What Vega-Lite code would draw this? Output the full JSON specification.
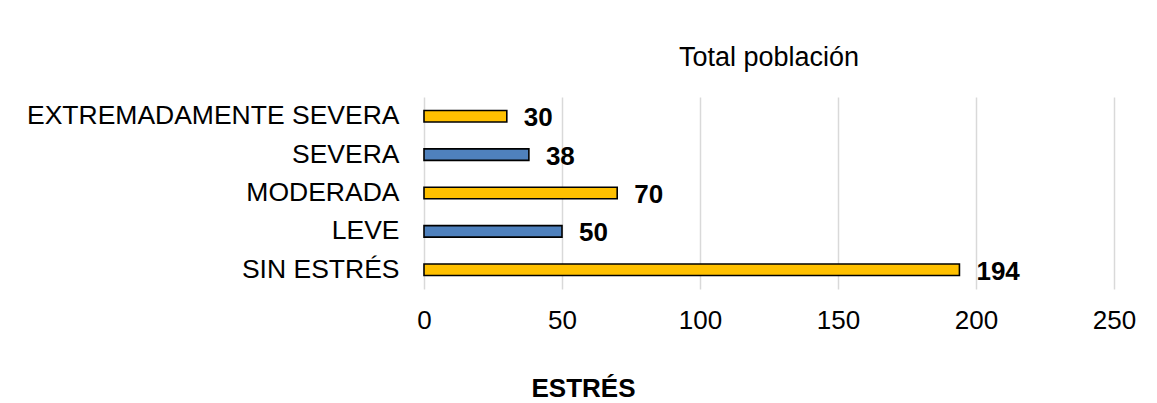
{
  "$schema": "https://vega.github.io/schema/vega-lite/v6.json",
  "width": 690,
  "height": 192,
  "autosize": {"type": "none"},
  "padding": {"left": 424, "top": 97, "right": 43, "bottom": 114},
  "background": "#ffffff",
  "config": {
    "font": "Liberation Sans",
    "view": {"stroke": null}
  },
  "title": {
    "text": "Total población",
    "fontSize": 27,
    "fontWeight": "normal",
    "color": "#000000",
    "anchor": "middle",
    "baseline": "alphabetic",
    "offset": 4
  },
  "data": {
    "values": [
      {"categoria": "EXTREMADAMENTE SEVERA", "total": 30},
      {"categoria": "SEVERA", "total": 38},
      {"categoria": "MODERADA", "total": 70},
      {"categoria": "LEVE", "total": 50},
      {"categoria": "SIN ESTRÉS", "total": 194}
    ]
  },
  "encoding": {
    "y": {
      "field": "categoria",
      "type": "nominal",
      "sort": null,
      "scale": {"paddingInner": 0.7, "paddingOuter": 0.35},
      "axis": {
        "title": null,
        "domain": false,
        "ticks": false,
        "labelFontSize": 26.5,
        "labelColor": "#000000",
        "labelPadding": 25,
        "labelLimit": 600
      }
    },
    "x": {
      "field": "total",
      "type": "quantitative",
      "scale": {"domain": [0, 250], "nice": false},
      "axis": {
        "values": [0, 50, 100, 150, 200, 250],
        "domain": false,
        "ticks": false,
        "grid": true,
        "gridColor": "#d9d9d9",
        "gridWidth": 1.5,
        "labelFontSize": 26,
        "labelColor": "#000000",
        "labelPadding": 18,
        "labelFlush": false,
        "title": "ESTRÉS",
        "titleFontSize": 26,
        "titleFontWeight": "bold",
        "titleColor": "#000000",
        "titleBaseline": "alphabetic",
        "titleX": 159,
        "titleY": 107
      }
    }
  },
  "layer": [
    {
      "mark": {"type": "bar", "stroke": "#000000", "strokeWidth": 1.6},
      "encoding": {
        "color": {
          "field": "categoria",
          "type": "nominal",
          "scale": {
            "domain": ["EXTREMADAMENTE SEVERA", "SEVERA", "MODERADA", "LEVE", "SIN ESTRÉS"],
            "range": ["#FFC000", "#4F81BD", "#FFC000", "#4F81BD", "#FFC000"]
          },
          "legend": null
        }
      }
    },
    {
      "mark": {
        "type": "text",
        "align": "left",
        "baseline": "middle",
        "dx": 17,
        "dy": 2,
        "fontSize": 26,
        "fontWeight": "bold",
        "color": "#000000"
      },
      "encoding": {
        "text": {"field": "total", "type": "quantitative"}
      }
    }
  ]
}
